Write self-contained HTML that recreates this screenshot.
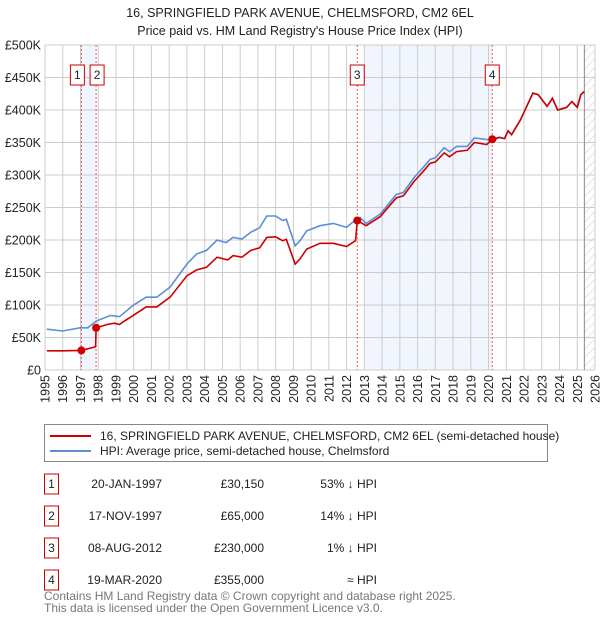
<!DOCTYPE html>
<html><head><meta charset="utf-8">
<style>
body{margin:0;background:#fff;}
#wrap{position:relative;width:600px;height:620px;overflow:hidden;}
svg text{font-family:"Liberation Sans","DejaVu Sans",sans-serif;}
</style></head>
<body>
<div id="wrap">
<svg id="chart" width="600" height="620" xmlns="http://www.w3.org/2000/svg">
<text x="300" y="17" text-anchor="middle" font-size="12.5" fill="#222">16, SPRINGFIELD PARK AVENUE, CHELMSFORD, CM2 6EL</text>
<text x="300" y="35" text-anchor="middle" font-size="12.5" fill="#222">Price paid vs. HM Land Registry's House Price Index (HPI)</text>
<g id="grid"></g><g id="marks"></g><g id="axes"></g>
<g>
<rect x="44.5" y="424.5" width="503" height="37" fill="#fff" stroke="#888"/>
<line x1="50" y1="436" x2="91" y2="436" stroke="#cc0000" stroke-width="2"/>
<text x="100" y="440" font-size="12" fill="#222">16, SPRINGFIELD PARK AVENUE, CHELMSFORD, CM2 6EL (semi-detached house)</text>
<line x1="50" y1="451" x2="91" y2="451" stroke="#5b8fd6" stroke-width="2"/>
<text x="100" y="455" font-size="12" fill="#222">HPI: Average price, semi-detached house, Chelmsford</text>
</g>
<g id="table" font-size="12" fill="#222"></g>
<text x="44" y="600" font-size="12" fill="#777">Contains HM Land Registry data © Crown copyright and database right 2025.</text>
<text x="44" y="612" font-size="12" fill="#777">This data is licensed under the Open Government Licence v3.0.</text>
</svg>
</div>
<script>
const hpiYears=[1995.1,1996.0,1996.97,1997.4,1997.9,1998.7,1999.2,1999.97,2000.7,2001.3,2002.05,2003.0,2003.55,2004.1,2004.7,2005.2,2005.6,2006.1,2006.6,2007.1,2007.5,2008.0,2008.4,2008.6,2009.1,2009.37,2009.75,2010.5,2011.25,2012.0,2012.5,2012.76,2013.1,2013.9,2014.8,2015.2,2015.8,2016.3,2016.7,2017.0,2017.5,2017.8,2018.2,2018.8,2019.2,2019.9,2020.2,2020.6,2020.9,2021.1,2021.3,2021.8,2022.5,2022.8,2023.3,2023.6,2023.9,2024.4,2024.7,2025.0,2025.2,2025.4];
const hpiValues=[62.8,60,65,65,75.5,84,82,99.5,112,112,127.5,163,178.6,184,200,196,204,201.5,212,219,237,237,230,232,191,199,214,222,225.5,219.4,231,234.7,225.5,240,270,273,296,311,324,326.5,342,335.7,344,344,357,354.6,352,358,356,368,362,385,426,423.5,405.6,418,400,404,413,404,423.5,428.6];
const redYears=[1995.1,1996.0,1997.05,1997.85,1997.88,1998.5,1998.9,1999.2,1999.4,1999.97,2000.7,2001.3,2002.05,2003.0,2003.55,2004.1,2004.7,2005.3,2005.6,2006.1,2006.6,2007.1,2007.5,2008.0,2008.4,2008.6,2009.1,2009.37,2009.75,2010.5,2011.25,2012.0,2012.5,2012.6,2013.1,2013.9,2014.8,2015.2,2015.8,2016.3,2016.7,2017.0,2017.5,2017.8,2018.2,2018.8,2019.2,2019.9,2020.21,2020.6,2020.9,2021.1,2021.3,2021.8,2022.5,2022.8,2023.3,2023.6,2023.9,2024.4,2024.7,2025.0,2025.2,2025.4];
const redValues=[29.6,29.6,30.15,35.7,65,70,72,70,74,84,97,97,112,145,154,158,173.5,169.4,176,173.5,184,188,204,205,199,201,163,171,186,195,195,190,199,230,222,236,265,268,290,305,318,320,334,328,336,338,350,347,355,358,356,368,362,385,426,423.5,405.6,418,400,404,413,404,423.5,428.6];
const yTicks=[0,50,100,150,200,250,300,350,400,450,500];
const xTickYears=[1995,1996,1997,1998,1999,2000,2001,2002,2003,2004,2005,2006,2007,2008,2009,2010,2011,2012,2013,2014,2015,2016,2017,2018,2019,2020,2021,2022,2023,2024,2025,2026];
const saleYears=[1997.05,1997.88,2012.6,2020.21];
const saleValues=[30.15,65,230,355];
const saleLabels=["1","2","3","4"];
const tDates=["20-JAN-1997","17-NOV-1997","08-AUG-2012","19-MAR-2020"];
const tPrices=["£30,150","£65,000","£230,000","£355,000"];
const tHpi=["53% ↓ HPI","14% ↓ HPI","1% ↓ HPI","≈ HPI"];

const X0=45,X1=595,Y0=370,Y1=45;
const xs=y=>X0+(y-1995)/(2026-1995)*(X1-X0);
const ys=v=>Y0-v/500*(Y0-Y1);
const NS="http://www.w3.org/2000/svg";
function mk(tag,attrs,parent){const e=document.createElementNS(NS,tag);for(const k in attrs)e.setAttribute(k,attrs[k]);parent.appendChild(e);return e;}
const grid=document.getElementById('grid'),marks=document.getElementById('marks'),axes=document.getElementById('axes'),table=document.getElementById('table');

let r=mk('rect',{x:xs(saleYears[0]),y:Y1,width:xs(saleYears[1])-xs(saleYears[0]),height:Y0-Y1,fill:'#eef3fc',opacity:0.8},grid);


r=mk('rect',{x:xs(2013),y:Y1,width:xs(saleYears[3])-xs(2013),height:Y0-Y1,fill:'#eef3fc',opacity:0.8},grid);


const defs=mk('defs',{},grid);
const pat=mk('pattern',{id:'hatch',width:6,height:6,patternUnits:'userSpaceOnUse',patternTransform:'rotate(45)'},defs);
mk('line',{x1:0,y1:0,x2:0,y2:6,stroke:'#ccc','stroke-width':1},pat);
r=mk('rect',{x:xs(2025.4),y:Y1,width:X1-xs(2025.4),height:Y0-Y1,fill:'url(#hatch)'},grid);



xTickYears.forEach(y=>{const l=mk('line',{x1:xs(y),y1:Y1,x2:xs(y),y2:Y0,stroke:'#ccc'},grid);


const t=mk('text',{x:0,y:0,transform:`translate(${xs(y)+4.5},${Y0+5}) rotate(-90)`,'text-anchor':'end','font-size':12.5,fill:'#222'},axes);t.textContent=y;

});
yTicks.forEach(v=>{const l=mk('line',{x1:X0,y1:ys(v),x2:X1,y2:ys(v),stroke:'#ccc'},grid);


const t=mk('text',{x:X0-4,y:ys(v)+4.5,'text-anchor':'end','font-size':12.5,fill:'#222'},axes);t.textContent=v===0?'£0':'£'+v+'K';

});
let ln=mk('line',{x1:xs(2025.4),y1:Y1,x2:xs(2025.4),y2:Y0,stroke:'#888'},grid);



saleYears.forEach((y,i)=>{const l=mk('line',{x1:xs(y),y1:Y1,x2:xs(y),y2:Y0,stroke:'#e55','stroke-dasharray':'2,2'},marks);


const bx=i===0?xs(y)-11:(i===1?xs(y)-6:xs(y)-7);
const b=mk('rect',{x:bx,y:65,width:14,height:20,fill:'#fff',stroke:'#c00'},marks);


const t=mk('text',{x:bx+7,y:79,'text-anchor':'middle','font-size':12,fill:'#222'},marks);t.textContent=saleLabels[i];

});

let p=mk('path',{d:hpiYears.map((y,i)=>(i?'L':'M')+xs(y).toFixed(1)+','+ys(hpiValues[i]).toFixed(1)).join(''),fill:'none',stroke:'#5b8fd6','stroke-width':1.6},marks);


p=mk('path',{d:redYears.map((y,i)=>(i?'L':'M')+xs(y).toFixed(1)+','+ys(redValues[i]).toFixed(1)).join(''),fill:'none',stroke:'#cc0000','stroke-width':1.6},marks);


saleYears.forEach((y,i)=>{const c=mk('circle',{cx:xs(y),cy:ys(saleValues[i]),r:4,fill:'#cc0000'},marks);

});

tDates.forEach((d,i)=>{const yy=486+i*32;
const b=mk('rect',{x:44.5,y:yy-12,width:14,height:20,fill:'#fff',stroke:'#c00'},table);


let t=mk('text',{x:51.5,y:yy+2,'text-anchor':'middle'},table);t.textContent=saleLabels[i];


t=mk('text',{x:162,y:yy+2,'text-anchor':'end'},table);t.textContent=d;


t=mk('text',{x:264,y:yy+2,'text-anchor':'end'},table);t.textContent=tPrices[i];


t=mk('text',{x:377,y:yy+2,'text-anchor':'end'},table);t.textContent=tHpi[i];

});
</script>
</body></html>
